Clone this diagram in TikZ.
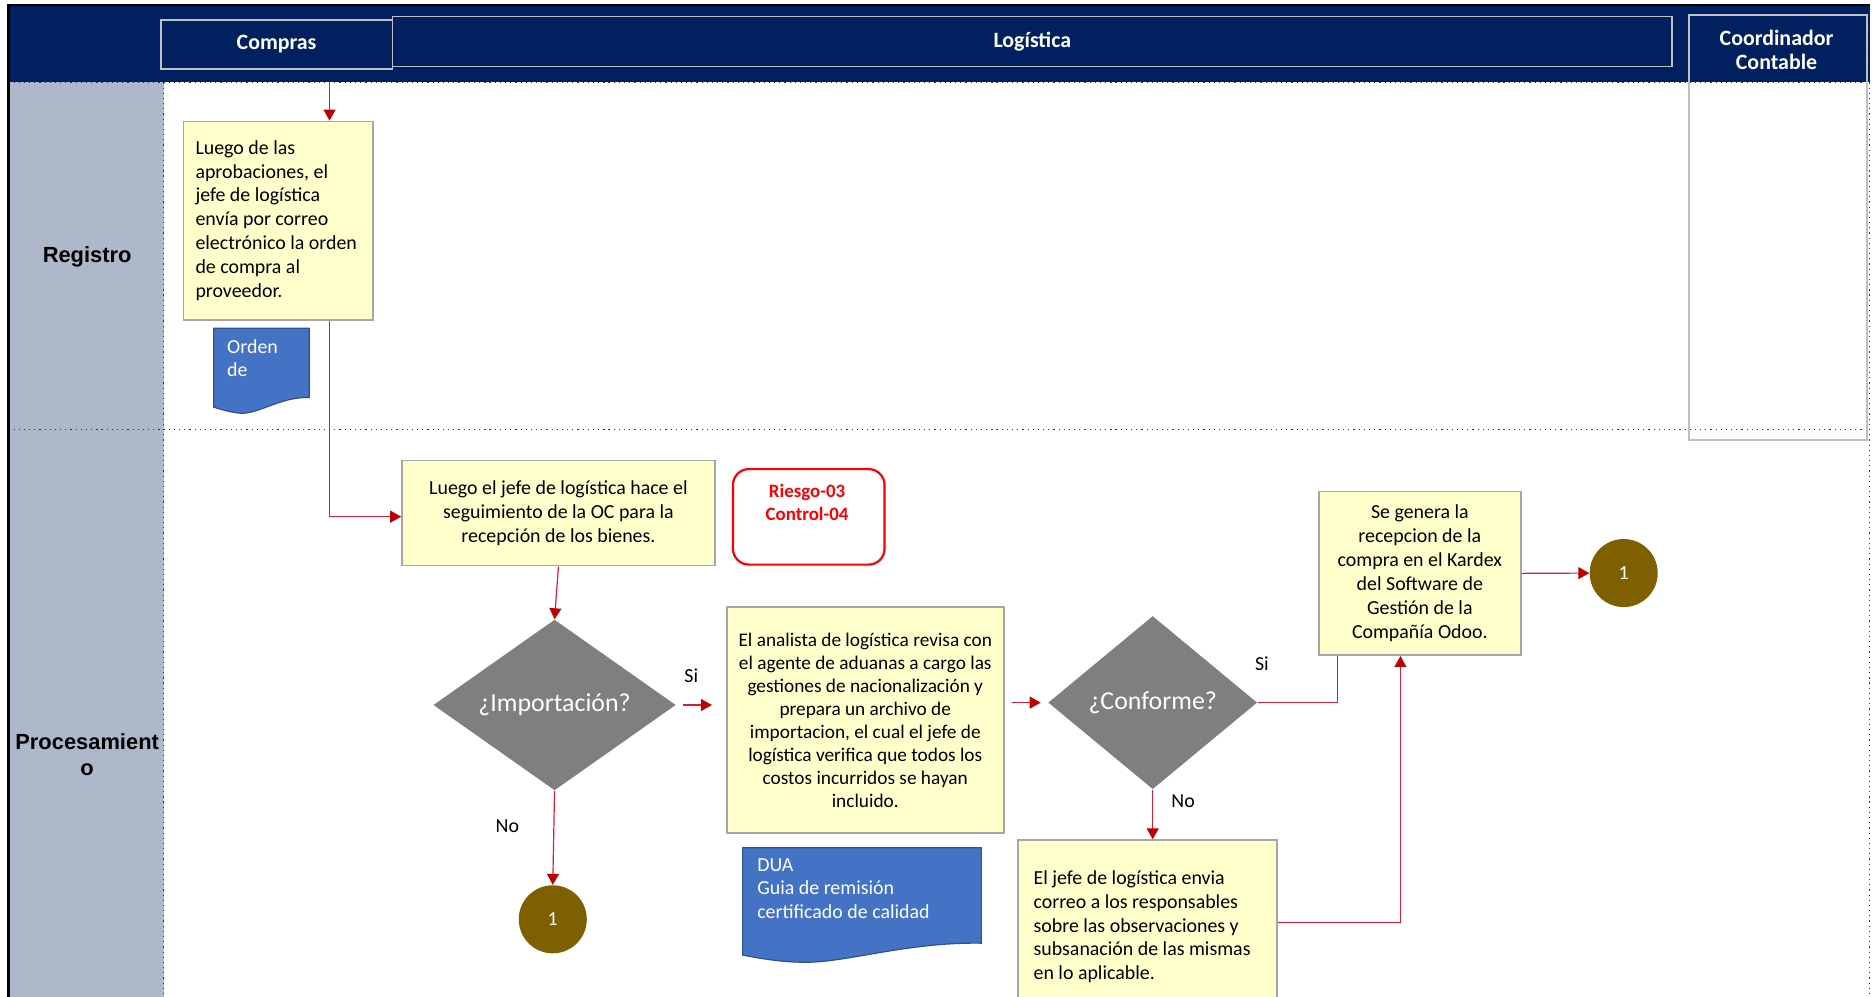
\documentclass[tikz,border=0pt]{standalone}
\usepackage{fontspec}
\setmainfont{Carlito}
\newfontfamily\arialf{Liberation Sans}
\usetikzlibrary{shapes.geometric,arrows.meta,calc}
\newlength\pxu
\setlength\pxu{0.6pt}
\definecolor{navy}{HTML}{002060}
\definecolor{lanegray}{HTML}{ADB9CA}
\definecolor{boxyellow}{HTML}{FFFFCC}
\definecolor{boxborder}{HTML}{A6A6A6}
\definecolor{hdrborder}{HTML}{BFBFBF}
\definecolor{diamgray}{HTML}{7F7F7F}
\definecolor{circbrown}{HTML}{7F6000}
\definecolor{docblue}{HTML}{4472C4}
\definecolor{docedge}{HTML}{2F528F}
\definecolor{linkred}{HTML}{D42030}
\definecolor{tipred}{HTML}{C00000}
\definecolor{riskred}{HTML}{FF0000}
\tikzset{
  procbox/.style={draw=boxborder, line width=0.9pt, fill=boxyellow, inner sep=0pt, anchor=north west, font=\fontsize{10}{12}\selectfont},
  decision/.style={diamond, fill=diamgray, inner sep=0pt, text=white, font=\fontsize{13}{15}\selectfont},
  connector/.style={circle, fill=circbrown, inner sep=0pt, minimum size=57\pxu, text=white, font=\fontsize{10}{12}\selectfont},
  link/.style={draw=linkred, line width=0.6pt},
  arrowlink/.style={link, -{Triangle[width=6pt,length=5.5pt,color=tipred]}},
  hdrbox/.style={draw=hdrborder, line width=0.8pt, inner sep=0pt, anchor=north west, text=white, font=\bfseries\fontsize{11}{12}\selectfont, align=center},
  hdrtext/.style={text=white, font=\bfseries\fontsize{11}{12}\selectfont, align=center},
  lanetext/.style={font=\arialf\bfseries\fontsize{11}{13}\selectfont, align=center},
  lbl/.style={font=\fontsize{10}{12}\selectfont},
  sep/.style={dotted, line width=0.6pt, black!80},
  doc/.style={fill=docblue, draw=docedge, line width=0.6pt},
  doctext/.style={text=white, anchor=north west, align=flush left, inner sep=0pt, font=\fontsize{10}{11.7}\selectfont},
}
\begin{document}
\begin{tikzpicture}[x=0.6pt, y=-0.6pt]
\useasboundingbox (0,0) rectangle (1568,835);
\fill[white] (0,0) rectangle (1568,835);
% header band and lane column
\fill[navy] (7,4) rectangle (1566,69);
\fill[lanegray] (7,69) rectangle (137,835);
\draw[sep] (7,69) -- (1566,69);
\draw[sep] (7,360) -- (1566,360);
\draw[sep] (137,69) -- (137,835);
\draw[sep] (1566,4) -- (1566,835);
\draw[black, line width=1.2pt] (7,835) -- (7,4) -- (1566,4);

% header boxes
\node[hdrbox, fill=navy, minimum width=194\pxu, minimum height=41\pxu] (hcompras) at (134,16) {Compras};
\node[hdrbox, fill=navy, minimum width=1072\pxu, minimum height=42\pxu] (hlog) at (328,13) {Logística};
\node[hdrbox, minimum width=149\pxu, minimum height=356\pxu] (hcoord) at (1414,12) {};
\node[hdrtext] (hcoordt) at (1488,42) {Coordinador\\Contable};

% lane labels
\node[lanetext] (lreg) at (73,215) {Registro};
\node[lanetext] (lproc) at (73,632) {Procesamient\\o};

% Registro row
\node[procbox, align=flush left, text width=139\pxu, minimum width=159\pxu, minimum height=166\pxu] (b1) at (153,101)
  {Luego de las\\aprobaciones, el\\jefe de logística\\envía por correo\\electrónico la orden\\de compra al\\proveedor.};
\draw[doc] (179,275) -- (259,275) -- (259,333) .. controls (235,332) and (215,348) .. (200,346) .. controls (192,345) and (185,343) .. (179,341) -- cycle;
\node[doctext] (doc1t) at (190,284) {Orden\\de};

% Procesamiento row
\node[procbox, align=center, minimum width=262\pxu, minimum height=88\pxu] (b2) at (336,385)
  {Luego el jefe de logística hace el\\seguimiento de la OC para la\\recepción de los bienes.};
\node[draw=riskred, line width=1.1pt, rounded corners=8pt, minimum width=127\pxu, minimum height=80\pxu, anchor=north west, fill=white] (risk) at (613,392) {};
\node[text=riskred, font=\bfseries\fontsize{9.5}{11.8}\selectfont, align=center] (riskt) at (676,421) {Riesgo-03\\Control-04};

\node[decision, shape aspect=1.42, minimum width=203\pxu, minimum height=143\pxu] (d1) at (464.5,590.5) {¿Importación?};
\node[procbox, align=center, minimum width=232\pxu, minimum height=189\pxu, font=\fontsize{9.7}{11.6}\selectfont] (b3) at (608,508)
  {El analista de logística revisa con\\el agente de aduanas a cargo las\\gestiones de nacionalización y\\prepara un archivo de\\importacion, el cual el jefe de\\logística verifica que todos los\\costos incurridos se hayan\\incluido.};
\draw[doc] (622,710) -- (822,710) -- (822,790) .. controls (760,789) and (710,806) .. (675,806) .. controls (655,806) and (638,803) .. (622,800) -- cycle;
\node[doctext] (doc2t) at (634,719) {DUA\\Guia de remisión\\certificado de calidad};

\node[decision, shape aspect=1.2, minimum width=175\pxu, minimum height=145\pxu] (d2) at (965.5,588.5) {¿Conforme?};
\node[procbox, align=center, minimum width=169\pxu, minimum height=137\pxu] (b4) at (1104,411)
  {Se genera la\\recepcion de la\\compra en el Kardex\\del Software de\\Gestión de la\\Compañía Odoo.};
\node[procbox, align=flush left, text width=191\pxu, minimum width=217\pxu, minimum height=145\pxu] (b5) at (852,703)
  {El jefe de logística envia\\correo a los responsables\\sobre las observaciones y\\subsanación de las mismas\\en lo aplicable.};

\node[connector] (c1) at (463,770) {1};
\node[connector] (c2) at (1360,480) {1};

% labels
\node[lbl] (si1) at (579,566) {Si};
\node[lbl] (si2) at (1057,556) {Si};
\node[lbl] (no1) at (425,692) {No};
\node[lbl] (no2) at (991,671) {No};

% connectors
\coordinate (hstart) at (276,69);
\draw[arrowlink] (hstart) -- (hstart |- b1.north);
\draw[arrowlink] (b1.south -| hstart) |- ($(b2.west)+(0,3)$);
\draw[arrowlink] (b2.south) -- (d1.north);
\draw[arrowlink] ($(d1.east)+(6,0)$) -- ++(24,0);
\draw[arrowlink] (d1.south) -- (c1.north);
\draw[arrowlink] ($(d2.west)+(-30,0)$) -- ($(d2.west)+(-6,0)$);
\draw[link] (d2.east) -| ($(b4.south west)+(16,0)$);
\draw[arrowlink] (b4.east) -- (c2.west);
\draw[arrowlink] (d2.south) -- (d2.south |- b5.north);
\draw[arrowlink] ($(b5.north east)+(0,70)$) -| ($(b4.south west)+(69,0)$);
\end{tikzpicture}
\end{document}
